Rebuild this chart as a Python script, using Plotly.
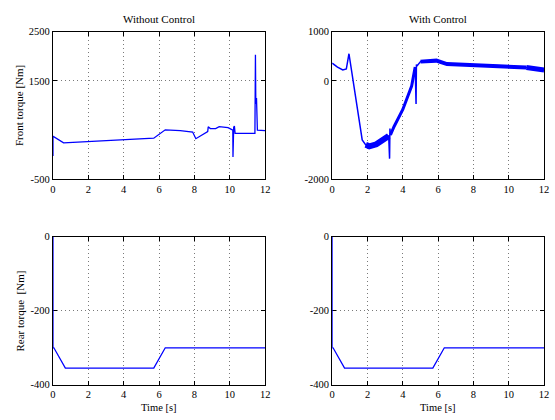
import plotly.graph_objects as go

# ---- data ----
t_front_wo = [0.0, 0.0, 0.02, 0.6, 5.7, 6.35, 7.2, 7.9, 8.08, 8.75, 8.78, 8.9, 9.2, 9.4, 9.9, 10.09, 10.17, 10.18, 10.19, 10.22, 10.26, 10.3, 11.42, 11.43, 11.45, 11.47, 11.49, 11.51, 11.53, 11.56, 12.0]
v_front_wo = [-25, 370, 370, 240, 335, 505, 490, 460, 325, 470, 565, 530, 530, 568, 548, 514, 500, -45, 500, 560, 580, 435, 435, 2030, 2030, 1100, 1030, 1150, 1000, 500, 489]

t_front_w = [0.0, 0.3, 0.6, 0.8, 0.95, 1.7, 1.9, 2.1, 2.5, 2.94, 3.2, 3.25, 3.27, 3.3, 3.5, 4.0, 4.5, 4.7, 4.75, 4.77, 4.8, 5.0, 5.5, 5.9, 6.5, 8.0, 10.0, 11.0, 12.0]
v_front_w = [360, 280, 220, 240, 550, -1200, -1300, -1330, -1290, -1164, -1120, -1580, -970, -1100, -932, -582, -107, 280, -470, 330, 300, 390, 400, 410, 340, 320, 300, 270, 220]

t_rear = [0.0, 0.0, 0.05, 0.7, 5.7, 6.35, 12.0]
v_rear = [0, -300, -300, -355, -355, -300, -300]

x_ticks = [0, 2, 4, 6, 8, 10, 12]
y_ticks_front_wo = [-500, 1500, 2500]
y_ticks_front_w = [-2000, 0, 1000]
y_ticks_rear = [-400, -200, 0]

titles = ["Without Control", "With Control"]
ylabels = ["Front torque [Nm]", "Rear torque  [Nm]"]
xlabel = "Time [s]"

BLUE = "#0000ff"
FONT = "Liberation Serif, Times New Roman, serif"

fig = go.Figure()

def add(x, y, xa, ya, w):
    fig.add_trace(go.Scatter(x=x, y=y, mode="lines", xaxis=xa, yaxis=ya,
                             line=dict(color=BLUE, width=w), showlegend=False,
                             hoverinfo="skip", cliponaxis=False))

# top-left
add(t_front_wo, v_front_wo, "x", "y", 1.3)

# top-right: thin curve, with thicker oscillating bands over parts of it
add(t_front_w, v_front_w, "x2", "y2", 1.5)
def seg(a, b):
    i, j = t_front_w.index(a), t_front_w.index(b)
    return t_front_w[i:j + 1], v_front_w[i:j + 1]
for (a, b, w) in [(1.9, 3.2, 6), (3.3, 4.7, 3), (5.0, 11.0, 4), (11.0, 12.0, 5)]:
    xs, ys = seg(a, b)
    add(xs, ys, "x2", "y2", w)

# bottom
add(t_rear, v_rear, "x3", "y3", 1.3)
add(t_rear, v_rear, "x4", "y4", 1.3)

xl, xr = (50.7 / 555, 266 / 555), (334 / 555, 549 / 555)
yt = (1 - 179 / 420, 1 - 27.3 / 420)
yb = (1 - 390 / 420, 1 - 238 / 420)

axis_common = dict(showline=True, linecolor="black", linewidth=1, mirror="ticks",
                   ticks="inside", ticklen=4, tickcolor="black", layer="below traces",
                   showgrid=True, gridcolor="#7a7a7a", griddash="1px,3px", gridwidth=1,
                   zeroline=False, tickfont=dict(family=FONT, size=10.5, color="black"))

def xax(dom, anchor):
    return dict(axis_common, domain=dom, anchor=anchor, range=[0, 12],
                tickvals=x_ticks, ticktext=[str(v) for v in x_ticks])

def yax(dom, anchor, rng, tv):
    return dict(axis_common, domain=dom, anchor=anchor, range=rng,
                tickvals=tv, ticktext=[str(v) for v in tv])

fig.update_layout(
    width=555, height=420, margin=dict(l=0, r=0, t=0, b=0),
    paper_bgcolor="white", plot_bgcolor="white",
    font=dict(family=FONT, size=11, color="black"),
    xaxis=xax(xl, "y"), yaxis=yax(yt, "x", [-500, 2500], y_ticks_front_wo),
    xaxis2=xax(xr, "y2"), yaxis2=yax(yt, "x2", [-2000, 1000], y_ticks_front_w),
    xaxis3=xax(xl, "y3"), yaxis3=yax(yb, "x3", [-400, 0], y_ticks_rear),
    xaxis4=xax(xr, "y4"), yaxis4=yax(yb, "x4", [-400, 0], y_ticks_rear),
)

ann = []
for xc, txt in zip([(xl[0] + xl[1]) / 2, (xr[0] + xr[1]) / 2], titles):
    ann.append(dict(x=xc, y=1 - 14 / 420, xref="paper", yref="paper", text=txt,
                    showarrow=False, font=dict(family=FONT, size=11), xanchor="center", yanchor="middle"))
    ann.append(dict(x=xc, y=0, xref="paper", yref="paper", text=xlabel,
                    showarrow=False, font=dict(family=FONT, size=10.5), xanchor="center", yanchor="bottom",
                    borderpad=0))
for yc, txt in zip([1 - 103 / 420, 1 - 314 / 420], ylabels):
    ann.append(dict(x=17 / 555, y=yc, xref="paper", yref="paper", text=txt, textangle=-90,
                    showarrow=False, font=dict(family=FONT, size=11), xanchor="center", yanchor="middle"))
fig.update_layout(annotations=ann)

fig.write_html("out.html")
